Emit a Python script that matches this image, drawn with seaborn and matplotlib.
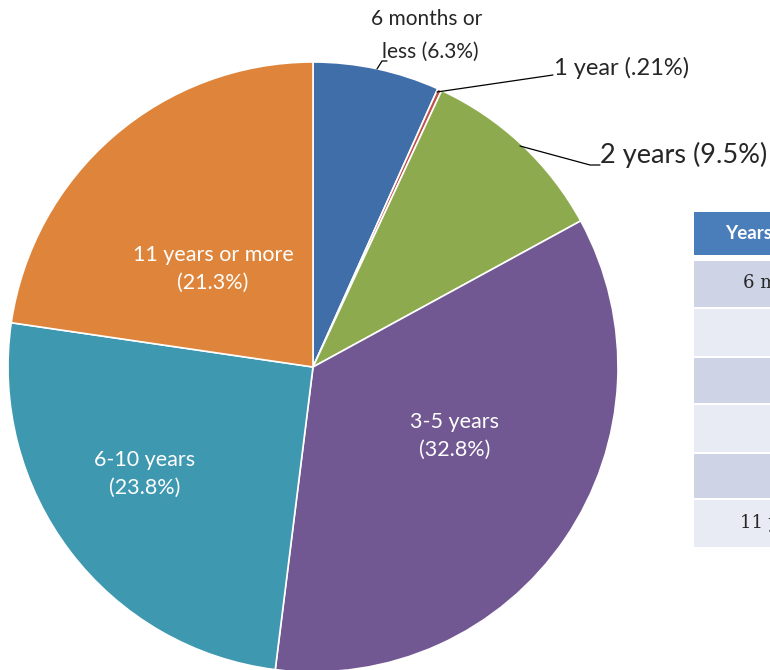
import matplotlib
matplotlib.use("Agg")
import matplotlib.pyplot as plt
import matplotlib.patches as mpatches
import seaborn as sns

# ---- data ----
categories = ["6 months or less", "1 year", "2 years", "3-5 years", "6-10 years", "11 years or more"]
percents = [6.3, 0.21, 9.5, 32.8, 23.8, 21.3]
pct_text = ["6.3%", ".21%", "9.5%", "32.8%", "23.8%", "21.3%"]
table_header = "Years of Experience"

sns.set_theme(style="white")
plt.rcParams['font.family'] = ['Lato', 'DejaVu Sans']

colors = ["#3F6EA9", "#C0504D", "#8DAB4E", "#725892", "#3E98B0", "#DE853B"]

W, H = 770, 670
fig = plt.figure(figsize=(7.7, 6.7), dpi=100)
ax = fig.add_axes([0, 0, 1, 1])

def Y(y):
    return H - y

cx, cy, r = 313, 367, 305
wedges, _ = ax.pie(percents, colors=colors, startangle=90, counterclock=False,
                   center=(cx, Y(cy)), radius=r, frame=True,
                   wedgeprops=dict(edgecolor="white", linewidth=1.2))
ax.set_xlim(0, W)
ax.set_ylim(0, H)
ax.axis("off")

# inside labels
inside = {5: (213, 269, "11 years or more"), 4: (145, 474, "6-10 years"), 3: (455, 436, "3-5 years")}
for i, (x, y, name) in inside.items():
    ax.text(x, Y(y), f"{name}\n({pct_text[i]})", color="white", fontsize=15.5,
            ha="center", va="center", linespacing=1.45)

# outside labels with leader lines
narrow = ['Liberation Sans Narrow', 'Lato', 'DejaVu Sans']
ax.text(427, Y(19), "6 months or", fontsize=15, ha="center", va="center", family=narrow)
ax.text(430, Y(52), f"less ({pct_text[0]})", fontsize=15, ha="center", va="center", family=narrow)
ax.plot([377, 382, 387], [Y(69), Y(61), Y(61)], color="black", lw=0.9)

ax.plot([437, 553], [Y(92), Y(75)], color="black", lw=0.9)
ax.text(554, Y(68), f"1 year ({pct_text[1]})", fontsize=17, ha="left", va="center")

ax.plot([520, 590, 600], [Y(146), Y(165), Y(165)], color="black", lw=0.9)
ax.text(600, Y(155), f"2 years ({pct_text[2]})", fontsize=19.5, ha="left", va="center")

# partial table on right
tx0, tx1 = 694, 940
ax.add_patch(mpatches.Rectangle((tx0, Y(255)), tx1 - tx0, 43, color="#4A7EBB", lw=0))
ax.text(808, Y(234), table_header, color="white", fontsize=13.5, fontweight="bold",
        ha="center", va="center")
row_edges = [259, 307, 356, 403, 452, 498, 547]
for k in range(6):
    y0, y1 = row_edges[k], row_edges[k + 1]
    c = "#CED4E6" if k % 2 == 0 else "#E8EBF4"
    ax.add_patch(mpatches.Rectangle((tx0, Y(y1)), tx1 - tx0, y1 - y0 - 1.5, color=c, lw=0))
    ax.text(818, Y((y0 + y1) / 2), categories[k], fontsize=13, ha="center", va="center",
            family=["DejaVu Serif"])

fig.savefig("out.png", dpi=100)
